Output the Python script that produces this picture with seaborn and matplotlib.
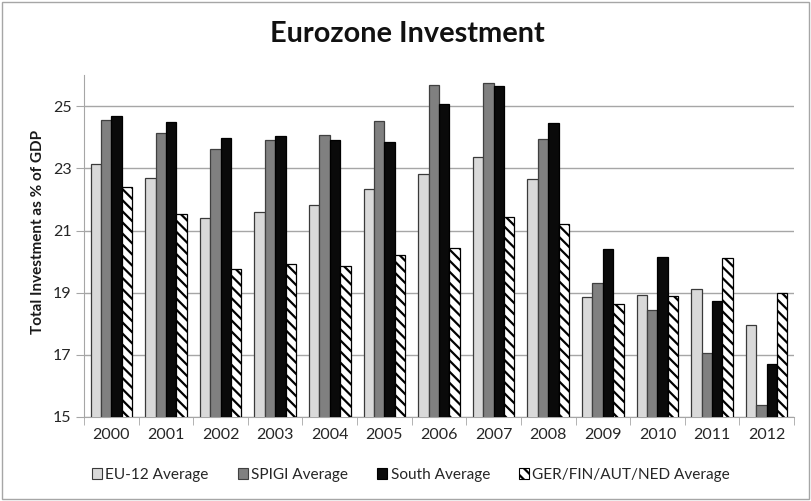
import matplotlib
matplotlib.use("Agg")
import matplotlib.pyplot as plt
import seaborn as sns
import pandas as pd
import numpy as np
from matplotlib.patches import Patch

years = ["2000", "2001", "2002", "2003", "2004", "2005", "2006",
         "2007", "2008", "2009", "2010", "2011", "2012"]
eu12 = [23.15, 22.68, 21.40, 21.61, 21.82, 22.33, 22.83, 23.36, 22.65, 18.87, 18.94, 19.11, 17.97]
spigi = [24.55, 24.14, 23.63, 23.90, 24.08, 24.52, 25.68, 25.74, 23.93, 19.32, 18.45, 17.05, 15.39]
south = [24.69, 24.48, 23.97, 24.03, 23.92, 23.84, 25.07, 25.64, 24.46, 20.40, 20.15, 18.74, 16.72]
gfan = [22.40, 21.54, 19.77, 19.91, 19.86, 20.21, 20.44, 21.43, 21.20, 18.64, 18.90, 20.13, 19.00]
series = ["EU-12 Average", "SPIGI Average", "South Average", "GER/FIN/AUT/NED Average"]

df = pd.DataFrame({
    "year": years * 4,
    "value": eu12 + spigi + south + gfan,
    "series": [s for s in series for _ in years],
})

sns.set_style("white")
plt.rcParams["font.family"] = ["Lato", "DejaVu Sans"]
plt.rcParams["hatch.linewidth"] = 1.6

face = ["#d9d9d9", "#808080", "#0a0a0a", "#ffffff"]
edge = ["#3a3a3a", "#404040", "#000000", "#000000"]

fig = plt.figure(figsize=(8.11, 5.01), dpi=100)
ax = fig.add_axes([0.1036, 0.1677, 0.8754, 0.6823])

sns.barplot(data=df, x="year", y="value", hue="series", hue_order=series,
            palette=dict(zip(series, face)), width=0.76, ax=ax, legend=False,
            zorder=3)

n = len(years)
for i, p in enumerate(ax.patches[:4 * n]):
    k = i // n
    p.set_edgecolor(edge[k])
    p.set_linewidth(0.9)
    if k == 3:
        p.set_hatch("\\\\\\")

ax.set_ylim(15, 26)
ax.set_yticks([15, 17, 19, 21, 23, 25])
ax.set_xlim(-0.5, n - 0.5)
ax.yaxis.grid(True, color="#a6a6a6", linewidth=1.0, zorder=0)
ax.set_axisbelow(True)
for s in ["top", "right"]:
    ax.spines[s].set_visible(False)
ax.spines["left"].set_color("#a6a6a6")
ax.spines["bottom"].set_color("#a6a6a6")
ax.tick_params(axis="y", which="both", left=True, length=6, color="#a6a6a6",
               labelsize=11.5, labelcolor="#262626", pad=3)
ax.set_xticks(np.arange(n))
ax.set_xticklabels(years)
ax.set_xticks(np.arange(n + 1) - 0.5, minor=True)
ax.tick_params(axis="x", which="major", length=0, labelsize=11.5,
               labelcolor="#262626", pad=8)
ax.tick_params(axis="x", which="minor", bottom=True, length=6, color="#a6a6a6")
ax.set_xlabel("")
ax.set_ylabel("Total Investment as % of GDP", fontsize=11, fontweight="bold",
              color="#1a1a1a")
ax.yaxis.set_label_coords(-0.055, 0.541)

fig.text(0.5025, 0.932, "Eurozone Investment", ha="center", va="center",
         fontsize=20.8, fontweight="bold", color="#111111")

handles = []
for k, s in enumerate(series):
    h = Patch(facecolor=face[k], edgecolor=edge[k], linewidth=0.8,
              hatch="\\\\\\" if k == 3 else None, label=s)
    handles.append(h)
leg = fig.legend(handles=handles, loc="center", bbox_to_anchor=(0.507, 0.052),
                 ncol=4, frameon=False, fontsize=11.1, handlelength=0.65,
                 handleheight=0.65, columnspacing=1.9, handletextpad=0.2)
for t in leg.get_texts():
    t.set_color("#262626")

border = plt.Rectangle((0.002, 0.003), 0.995, 0.993, transform=fig.transFigure,
                       fill=False, edgecolor="#a6a6a6", linewidth=1.0)
fig.patches.append(border)

fig.savefig("out.png", dpi=100)
